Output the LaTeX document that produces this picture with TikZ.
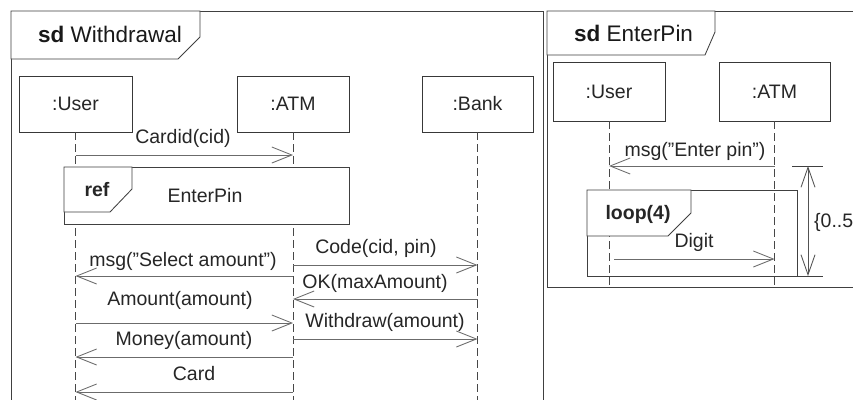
\documentclass[tikz,border=0pt]{standalone}
\usepackage{fontspec}
\setmainfont{Liberation Sans}
\usetikzlibrary{arrows.meta}
\tikzset{
  framel/.style={draw=black!75, line width=0.9pt},
  tabl/.style={draw=black!75, line width=0.85pt, fill=white},
  objbox/.style={draw=black!78, line width=0.85pt, fill=white, inner sep=0pt,
    font=\fontsize{19.5}{22}\selectfont, text=black!85},
  lifeline/.style={draw=black!72, line width=0.85pt, dash pattern=on 8pt off 4pt},
  msgarrow/.style={draw=black!58, line width=0.85pt, -{Straight Barb[length=20pt,width=16pt,line width=0.85pt]}},
  msglabel/.style={inner sep=0pt, font=\fontsize{19.5}{22}\selectfont, text=black!85},
  titlelabel/.style={inner sep=0pt, anchor=west, font=\fontsize{22.5}{26}\selectfont, text=black!90},
  dimarrow/.style={draw=black!68, line width=0.85pt,
    {Straight Barb[length=20pt,width=14pt,line width=0.85pt]}-{Straight Barb[length=20pt,width=14pt,line width=0.85pt]}},
}
\begin{document}
\begin{tikzpicture}[x=1pt,y=-1pt]
\useasboundingbox (0,0) rectangle (853,399);
\fill[white] (0,0) rectangle (853,399);
\clip (0,0) rectangle (853,399);

% ===================== Left frame: sd Withdrawal =====================
\draw[framel] (11,410) -- (11,11) -- (543,11) -- (543,410);
\draw[tabl] (11,11) -- (200,11) -- (200,37) -- (178,59) -- (11,59) -- cycle;
\node[titlelabel] (wtitle) at (38,34) {\textbf{sd} Withdrawal};

\node[objbox, minimum width=113pt, minimum height=56pt] (uL) at (75.5,104) {:User};
\node[objbox, minimum width=112pt, minimum height=56pt] (aL) at (293,104) {:ATM};
\node[objbox, minimum width=111pt, minimum height=56pt] (bL) at (477.5,104) {:Bank};

\coordinate (uLend) at (75.5,405);
\coordinate (aLend) at (293,405);
\coordinate (bLend) at (477.5,405);
\draw[lifeline] (uL.south) -- (uLend);
\draw[lifeline] (aL.south) -- (aLend);
\draw[lifeline] (bL.south) -- (bLend);

% Cardid
\draw[msgarrow] (uL.south |- 0,155) -- (aL.south |- 0,155);
\node[msglabel] (l1) at (183,138) {Cardid(cid)};

% ref EnterPin
\draw[framel, fill=white] (64,167) rectangle (349,224);
\draw[tabl] (64,167) -- (132,167) -- (132,189) -- (110,212) -- (64,212) -- cycle;
\node[msglabel, font=\bfseries\fontsize{19.5}{22}\selectfont] (refl) at (97,190) {ref};
\node[msglabel] (refname) at (205,196) {EnterPin};

% messages
\draw[msgarrow] (aL.south |- 0,276) -- (uL.south |- 0,276);
\node[msglabel] (l2) at (183,261) {msg(”Select amount”)};

\draw[msgarrow] (aL.south |- 0,265) -- (bL.south |- 0,265);
\node[msglabel] (l3) at (376,248) {Code(cid, pin)};

\draw[msgarrow] (bL.south |- 0,299) -- (aL.south |- 0,299);
\node[msglabel] (l4) at (375,283) {OK(maxAmount)};

\draw[msgarrow] (uL.south |- 0,323) -- (aL.south |- 0,323);
\node[msglabel] (l5) at (180,300) {Amount(amount)};

\draw[msgarrow] (aL.south |- 0,339) -- (bL.south |- 0,339);
\node[msglabel] (l6) at (385,322) {Withdraw(amount)};

\draw[msgarrow] (aL.south |- 0,357) -- (uL.south |- 0,357);
\node[msglabel] (l7) at (184,340) {Money(amount)};

\draw[msgarrow] (aL.south |- 0,392) -- (uL.south |- 0,392);
\node[msglabel] (l8) at (194,374) {Card};

% ===================== Right frame: sd EnterPin =====================
\draw[framel] (860,11) -- (547,11) -- (547,287) -- (860,287);
\draw[tabl] (547,11) -- (715,11) -- (715,32) -- (705,55) -- (547,55) -- cycle;
\node[titlelabel] (etitle) at (574,33) {\textbf{sd} EnterPin};

\node[objbox, minimum width=112pt, minimum height=59pt] (uR) at (609,91.5) {:User};
\node[objbox, minimum width=111pt, minimum height=59pt] (aR) at (774.5,91.5) {:ATM};

\coordinate (uRend) at (609,287);
\coordinate (aRend) at (774.5,287);
\draw[lifeline] (uR.south) -- (uRend);
\draw[lifeline] (aR.south) -- (aRend);

\draw[msgarrow] (aR.south |- 0,166) -- (uR.south |- 0,166);
\node[msglabel] (l9) at (695,151) {msg(”Enter pin”)};

% loop fragment
\draw[framel] (587,190) rectangle (797,276);
\coordinate (dimbotend) at (823,276);
\draw[framel] (797,276) -- (dimbotend);
\draw[tabl] (587,190) -- (691,190) -- (691,213) -- (668,236) -- (587,236) -- cycle;
\node[msglabel, font=\bfseries\fontsize{19.5}{22}\selectfont] (loopl) at (638,214) {loop(4)};

\draw[msgarrow] ([xshift=5pt]uR.south |- 0,259) -- (aR.south |- 0,259);
\node[msglabel] (l10) at (694,242) {Digit};

% duration constraint
\coordinate (ticktopl) at (792,166);
\coordinate (ticktopr) at (823,166);
\draw[framel, line width=0.85pt] (ticktopl) -- (ticktopr);
\coordinate (dimtop) at (808,166);
\coordinate (dimbot) at (808,276);
\draw[dimarrow] (dimtop) -- (dimbot);
\node[msglabel, anchor=west] (dur) at (814,222) {\{0..5};

\end{tikzpicture}
\end{document}
